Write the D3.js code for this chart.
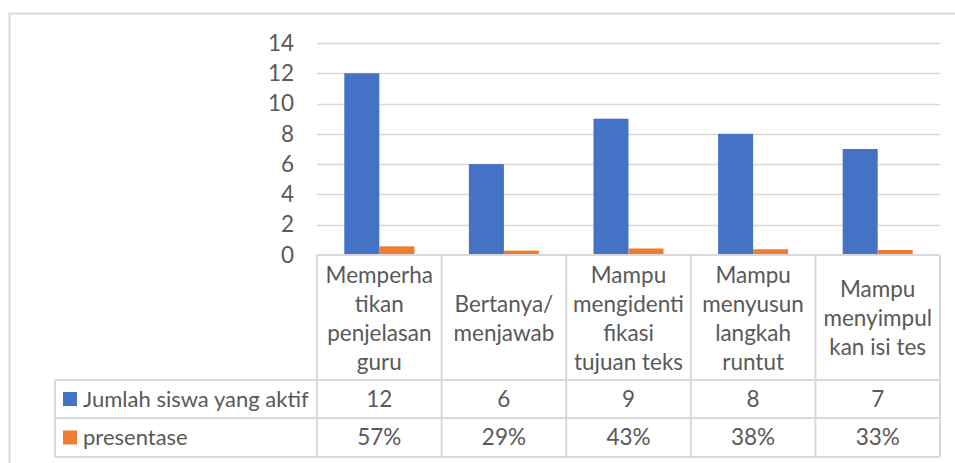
<!DOCTYPE html>
<html><head><meta charset="utf-8">
<script src="https://cdn.jsdelivr.net/npm/d3@7"></script>
<style>body{margin:0;background:#fff}svg{display:block}text{font-family:Lato,"Open Sans",sans-serif;fill:#595959}</style>
</head><body><svg id="c" width="955" height="463"></svg>
<script>
const categories = [
  ["Memperha","tikan","penjelasan","guru"],
  ["Bertanya/","menjawab"],
  ["Mampu","mengidenti","fikasi","tujuan teks"],
  ["Mampu","menyusun","langkah","runtut"],
  ["Mampu","menyimpul","kan isi tes"]
];
const seriesNames = ["Jumlah siswa yang aktif","presentase"];
const jumlah = [12, 6, 9, 8, 7];
const presentase = [0.57, 0.29, 0.43, 0.38, 0.33];
const presentaseLabels = ["57%","29%","43%","38%","33%"];
const yTicks = [0,2,4,6,8,10,12,14];
const colors = ["#4472C4","#ED7D31"];

const svg = d3.select("#c");
const fs = 22;
// outer chart border
svg.append("path").attr("d","M9.5,463 V13.5 H955").attr("fill","none").attr("stroke","#d9d9d9").attr("stroke-width",2);

const x0 = 317, x1 = 940, yTop = 43, yBase = 255;
const x = d3.scaleBand().domain(d3.range(categories.length)).range([x0, x1]).paddingInner(0).paddingOuter(0);
const y = d3.scaleLinear().domain([0,14]).range([yBase, yTop]);
const xs = d3.scaleBand().domain([0,1]).range([0, x.bandwidth()]).paddingInner(0).paddingOuter(0.78);

// gridlines
svg.append("g").selectAll("line").data(yTicks.filter(d=>d>0)).join("line")
  .attr("x1",x0).attr("x2",x1).attr("y1",d=>Math.round(y(d))+0.5).attr("y2",d=>Math.round(y(d))+0.5)
  .attr("stroke","#d9d9d9").attr("stroke-width",1.5);

// y axis labels
const yAxis = d3.axisLeft(y).tickValues(yTicks).tickSize(0).tickPadding(0);
const ya = svg.append("g").attr("transform",`translate(294,0)`).call(yAxis);
ya.select(".domain").remove();
ya.selectAll("text").attr("font-size",22.5).attr("fill","#595959").style("font-family","Lato");

// bars
const series = [jumlah, presentase];
series.forEach((vals, si) => {
  svg.append("g").selectAll("rect").data(vals).join("rect")
    .attr("x",(d,i)=>x(i)+xs(si)).attr("width",xs.bandwidth())
    .attr("y",d=>y(d)).attr("height",d=>yBase-y(d)).attr("fill",colors[si]);
});

// data table
const rowTop = [255, 380, 418, 457];
const legendLeft = 55;
const g = svg.append("g").attr("stroke","#d9d9d9").attr("stroke-width",2);
g.append("line").attr("x1",x0).attr("x2",x1).attr("y1",rowTop[0]).attr("y2",rowTop[0]);
rowTop.slice(1).forEach(r=>g.append("line").attr("x1",legendLeft).attr("x2",x1).attr("y1",r).attr("y2",r));
d3.range(categories.length+1).forEach(i=>{
  const xx = i<categories.length ? x(i) : x1;
  g.append("line").attr("x1",xx).attr("x2",xx).attr("y1",rowTop[0]).attr("y2",rowTop[3]);
});
g.append("line").attr("x1",legendLeft).attr("x2",legendLeft).attr("y1",rowTop[1]).attr("y2",rowTop[3]);

// category labels
const lh = 29;
categories.forEach((lines,i)=>{
  const cy = (rowTop[0]+rowTop[1])/2 + 1;
  const t = svg.append("text").attr("text-anchor","middle").attr("font-size",22.5);
  lines.forEach((ln,k)=>{
    t.append("tspan").attr("x",x(i)+x.bandwidth()/2)
      .attr("y",cy + (k-(lines.length-1)/2)*lh).attr("dy","0.35em").text(ln);
  });
});
// values rows
const rowVals = [jumlah.map(String), presentaseLabels];
rowVals.forEach((vals,ri)=>{
  const cy = (rowTop[ri+1]+rowTop[ri+2])/2;
  svg.append("g").selectAll("text").data(vals).join("text")
    .attr("x",(d,i)=>x(i)+x.bandwidth()/2).attr("y",cy).attr("dy","0.35em")
    .attr("text-anchor","middle").attr("font-size",22.5).text(d=>d);
  svg.append("rect").attr("x",63).attr("y",cy-7).attr("width",14).attr("height",14).attr("fill",colors[ri]);
  svg.append("text").attr("x",83).attr("y",cy).attr("dy","0.35em").attr("font-size",fs).text(seriesNames[ri]);
});
</script></body></html>
